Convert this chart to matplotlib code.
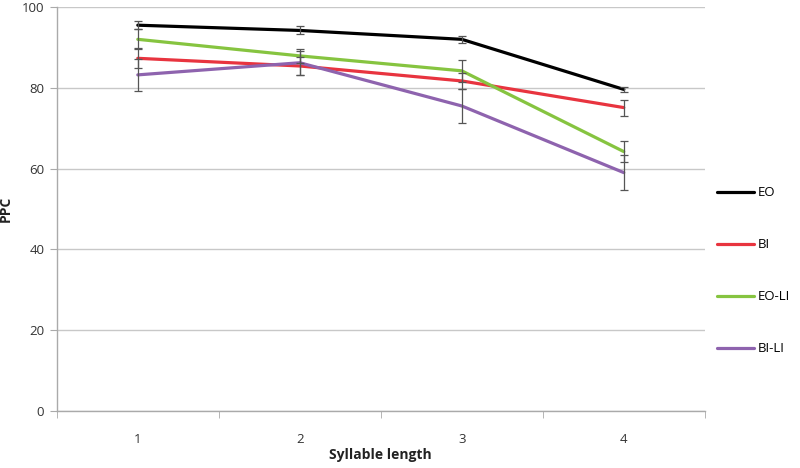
import matplotlib
matplotlib.use("Agg")
import matplotlib.pyplot as plt

plt.rcParams['font.family'] = ['Open Sans', 'DejaVu Sans']

categories = [1, 2, 3, 4]
series = ["EO", "BI", "EO-LI", "BI-LI"]
values = {
    "EO":    [95.5, 94.2, 92.0, 79.6],
    "BI":    [87.3, 85.4, 81.7, 75.1],
    "EO-LI": [92.0, 87.9, 84.2, 64.2],
    "BI-LI": [83.2, 86.2, 75.5, 59.0],
}
errors = {
    "EO":    [1.0, 1.0, 0.8, 0.7],
    "BI":    [2.5, 2.3, 2.0, 2.0],
    "EO-LI": [2.5, 1.7, 2.7, 2.6],
    "BI-LI": [3.9, 3.0, 4.1, 4.3],
}
colors = {"EO": "#000000", "BI": "#e8343f", "EO-LI": "#86c440", "BI-LI": "#8e63ae"}
yticks = [0, 20, 40, 60, 80, 100]

fig = plt.figure(figsize=(8, 4.68), dpi=100)
ax = fig.add_axes([0.071, 0.122, 0.81, 0.863])

x = list(range(len(categories)))
for s in series:
    ax.plot(x, values[s], color=colors[s], lw=2.3, label=s, zorder=3,
            solid_capstyle='round')
for s in series:
    ax.errorbar(x, values[s], yerr=errors[s], fmt='none', ecolor='#555555',
                elinewidth=0.9, capsize=3, capthick=0.9, zorder=4)

ax.set_xlim(-0.5, len(categories) - 0.5)
ax.set_ylim(0, 100)
ax.set_yticks(yticks)
ax.set_xticks(x)
ax.set_xticklabels([str(c) for c in categories])
ax.set_xticks([i - 0.5 for i in range(len(categories) + 1)], minor=True)
ax.tick_params(axis='x', which='major', length=0, pad=16, labelsize=9.5, labelcolor='#333333')
ax.tick_params(axis='x', which='minor', length=5, color='#aaaaaa', direction='out')
ax.tick_params(axis='y', length=5, color='#aaaaaa', labelsize=9.5, labelcolor='#333333', pad=4)
ax.grid(axis='y', color='#c8c8c8', lw=1)
ax.set_axisbelow(True)
for sp in ['top', 'right']:
    ax.spines[sp].set_visible(False)
for sp in ['left', 'bottom']:
    ax.spines[sp].set_color('#aaaaaa')
    ax.spines[sp].set_linewidth(1)

ax.set_xlabel("Syllable length", fontsize=10, fontweight='bold', labelpad=1, color='#222222')
ax.set_ylabel("PPC", fontsize=10, fontweight='bold', color='#222222')
ax.yaxis.set_label_coords(-0.068, 0.5)

leg = ax.legend(loc='center left', bbox_to_anchor=(1.0, 0.347), frameon=False,
                fontsize=9.5, handlelength=2.8, handletextpad=0.3, labelspacing=2.95)

fig.savefig("out.png", dpi=100)
